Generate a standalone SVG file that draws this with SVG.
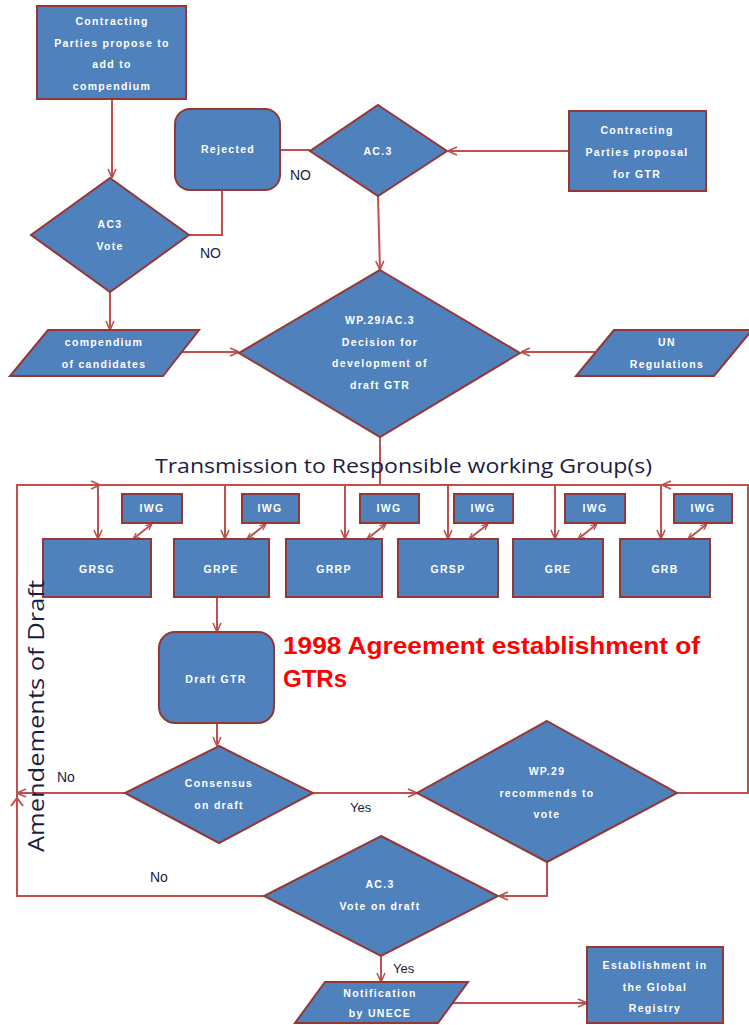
<svg xmlns="http://www.w3.org/2000/svg" width="749" height="1025" viewBox="0 0 749 1025">
<style>
.n{fill:#4F81BD;stroke:#953735;stroke-width:2}
.t{font-family:"Liberation Sans",Arial,sans-serif;font-weight:bold;font-size:10.5px;fill:#fff;text-anchor:middle;letter-spacing:1.3px}
.c{fill:none;stroke:#C0504D;stroke-width:2}
.l{font-family:"Liberation Sans",Arial,sans-serif;font-size:14px;fill:#1c1c40}
</style>
<defs>
<marker id="a" viewBox="0 0 10 10" refX="10" refY="5" markerWidth="10" markerHeight="10" markerUnits="userSpaceOnUse" orient="auto-start-reverse"><path d="M1,1 L10,5 L1,9" fill="none" stroke="#C0504D" stroke-width="1.6"/></marker>
<marker id="s" viewBox="0 0 10 10" refX="10" refY="5" markerWidth="7" markerHeight="7" markerUnits="userSpaceOnUse" orient="auto-start-reverse"><path d="M1,1 L10,5 L1,9" fill="none" stroke="#C0504D" stroke-width="1.8"/></marker>
</defs>
<rect width="749" height="1025" fill="#fff"/>
<g id="connectors">
<path class="c" d="M112,99 V178" marker-end="url(#a)"/>
<path class="c" d="M222,190 V235 H189"/>
<path class="c" d="M310,150 H280"/>
<path class="c" d="M569,151 H448" marker-end="url(#a)"/>
<path class="c" d="M378,196 L380,270" marker-end="url(#a)"/>
<path class="c" d="M110,292 V330" marker-end="url(#a)"/>
<path class="c" d="M181,352 H239" marker-end="url(#a)"/>
<path class="c" d="M595,352 H521" marker-end="url(#a)"/>
<path class="c" d="M380,437 V485"/>
<path class="c" d="M17,485 H748"/>
<path class="c" d="M264,896 H17 V485 H100" marker-end="url(#a)"/>
<path class="c" d="M677,793 H748 V485 H662" marker-end="url(#a)"/>
<path class="c" d="M11,806 L17,798 L23,806"/>
<path class="c" d="M98,485 V539" marker-end="url(#a)"/>
<path class="c" d="M225,485 V539" marker-end="url(#a)"/>
<path class="c" d="M345,485 V539" marker-end="url(#a)"/>
<path class="c" d="M448,485 V539" marker-end="url(#a)"/>
<path class="c" d="M555,485 V539" marker-end="url(#a)"/>
<path class="c" d="M661,485 V539" marker-end="url(#a)"/>
<path class="c" d="M133,539 L152,524" marker-start="url(#s)" marker-end="url(#s)"/>
<path class="c" d="M247,539 L266,524" marker-start="url(#s)" marker-end="url(#s)"/>
<path class="c" d="M367,539 L386,524" marker-start="url(#s)" marker-end="url(#s)"/>
<path class="c" d="M469,539 L488,524" marker-start="url(#s)" marker-end="url(#s)"/>
<path class="c" d="M578,539 L597,524" marker-start="url(#s)" marker-end="url(#s)"/>
<path class="c" d="M688,539 L707,524" marker-start="url(#s)" marker-end="url(#s)"/>
<path class="c" d="M217,597 V632" marker-end="url(#a)"/>
<path class="c" d="M217,723 V746" marker-end="url(#a)"/>
<path class="c" d="M125,793 H17" marker-end="url(#a)"/>
<path class="c" d="M313,793 H417" marker-end="url(#a)"/>
<path class="c" d="M547,862 V896 H499" marker-end="url(#a)"/>
<path class="c" d="M381,956 V982" marker-end="url(#a)"/>
<path class="c" d="M453,1003 H587" marker-end="url(#a)"/>
</g>
<g id="propose">
<rect class="n" x="37" y="6" width="149" height="93"/>
<text class="t" x="112" y="25">Contracting</text>
<text class="t" x="112" y="47">Parties propose to</text>
<text class="t" x="112" y="68">add to</text>
<text class="t" x="112" y="90">compendium</text>
</g>
<g id="rejected">
<rect class="n" x="175" y="109" width="105" height="81" rx="15"/>
<text class="t" x="228" y="153">Rejected</text>
</g>
<g id="ac3vote">
<polygon class="n" points="110,178 189,235 110,292 31,235"/>
<text class="t" x="110" y="228">AC3</text>
<text class="t" x="110" y="250">Vote</text>
</g>
<g id="ac3">
<polygon class="n" points="378,105 447,151 378,196 310,151"/>
<text class="t" x="378" y="155">AC.3</text>
</g>
<g id="proposal">
<rect class="n" x="569" y="111" width="137" height="80"/>
<text class="t" x="637" y="134">Contracting</text>
<text class="t" x="637" y="156">Parties proposal</text>
<text class="t" x="637" y="178">for GTR</text>
</g>
<g id="compendium">
<polygon class="n" points="48,330 199,330 163,376 10,376"/>
<text class="t" x="104" y="346">compendium</text>
<text class="t" x="104" y="368">of candidates</text>
</g>
<g id="decision">
<polygon class="n" points="380,270 520,353 380,437 239,353"/>
<text class="t" x="380" y="324">WP.29/AC.3</text>
<text class="t" x="380" y="346">Decision for</text>
<text class="t" x="380" y="367">development of</text>
<text class="t" x="380" y="389">draft  GTR</text>
</g>
<g id="unreg">
<polygon class="n" points="614,330 752,330 714,376 576,376"/>
<text class="t" x="667" y="346">UN</text>
<text class="t" x="667" y="368">Regulations</text>
</g>
<text x="155" y="473" textLength="497" lengthAdjust="spacingAndGlyphs" style="font-family:'Open Sans','Liberation Sans',sans-serif;font-size:20px;fill:#1c1c40">Transmission to Responsible working Group(s)</text>
<g id="grsg">
<rect class="n" x="43" y="539" width="108" height="58"/>
<text class="t" x="97" y="573">GRSG</text>
</g>
<g id="iwg1"><rect class="n" x="122" y="494" width="60" height="29"/><text class="t" x="152" y="512">IWG</text></g>
<g id="grpe">
<rect class="n" x="174" y="539" width="95" height="58"/>
<text class="t" x="221" y="573">GRPE</text>
</g>
<g id="iwg2"><rect class="n" x="242" y="494" width="57" height="29"/><text class="t" x="270" y="512">IWG</text></g>
<g id="grrp">
<rect class="n" x="286" y="539" width="96" height="58"/>
<text class="t" x="334" y="573">GRRP</text>
</g>
<g id="iwg3"><rect class="n" x="360" y="494" width="59" height="29"/><text class="t" x="389" y="512">IWG</text></g>
<g id="grsp">
<rect class="n" x="398" y="539" width="100" height="58"/>
<text class="t" x="448" y="573">GRSP</text>
</g>
<g id="iwg4"><rect class="n" x="454" y="494" width="59" height="29"/><text class="t" x="483" y="512">IWG</text></g>
<g id="gre">
<rect class="n" x="513" y="539" width="90" height="58"/>
<text class="t" x="558" y="573">GRE</text>
</g>
<g id="iwg5"><rect class="n" x="565" y="494" width="60" height="29"/><text class="t" x="595" y="512">IWG</text></g>
<g id="grb">
<rect class="n" x="620" y="539" width="90" height="58"/>
<text class="t" x="665" y="573">GRB</text>
</g>
<g id="iwg6"><rect class="n" x="674" y="494" width="58" height="29"/><text class="t" x="703" y="512">IWG</text></g>
<g id="draft">
<rect class="n" x="159" y="632" width="115" height="91" rx="16"/>
<text class="t" x="216" y="683">Draft  GTR</text>
</g>
<text x="283" y="654" textLength="417" lengthAdjust="spacingAndGlyphs" style="font-family:'Liberation Sans',Arial,sans-serif;font-weight:bold;font-size:24px;fill:#FF0000">1998 Agreement establishment of</text>
<text x="283" y="687" style="font-family:'Liberation Sans',Arial,sans-serif;font-weight:bold;font-size:24px;fill:#FF0000">GTRs</text>
<g id="consensus">
<polygon class="n" points="219,746 313,793 219,843 125,793"/>
<text class="t" x="219" y="787">Consensus</text>
<text class="t" x="219" y="809">on draft</text>
</g>
<g id="recommend">
<polygon class="n" points="547,721 677,793 547,862 417,793"/>
<text class="t" x="547" y="775">WP.29</text>
<text class="t" x="547" y="797">recommends to</text>
<text class="t" x="547" y="818">vote</text>
</g>
<g id="votedraft">
<polygon class="n" points="381,836 498,896 381,956 264,896"/>
<text class="t" x="380" y="888">AC.3</text>
<text class="t" x="380" y="910">Vote on draft</text>
</g>
<g id="notification">
<polygon class="n" points="325,982 468,982 438,1023 295,1023"/>
<text class="t" x="380" y="997">Notification</text>
<text class="t" x="380" y="1017">by UNECE</text>
</g>
<g id="establishment">
<rect class="n" x="587" y="947" width="136" height="76"/>
<text class="t" x="655" y="969">Establishment in</text>
<text class="t" x="655" y="991">the Global</text>
<text class="t" x="655" y="1012">Registry</text>
</g>
<text transform="translate(44,852) rotate(-90)" textLength="272" lengthAdjust="spacingAndGlyphs" style="font-family:'Open Sans','Liberation Sans',sans-serif;font-size:21px;fill:#1c1c40">Amendements of Draft</text>
<text class="l" x="200" y="258">NO</text>
<text class="l" x="290" y="180">NO</text>
<text class="l" x="57" y="782">No</text>
<text class="l" x="350" y="812" style="font-size:13px">Yes</text>
<text class="l" x="150" y="882">No</text>
<text class="l" x="393" y="973" style="font-size:13px">Yes</text>
</svg>
